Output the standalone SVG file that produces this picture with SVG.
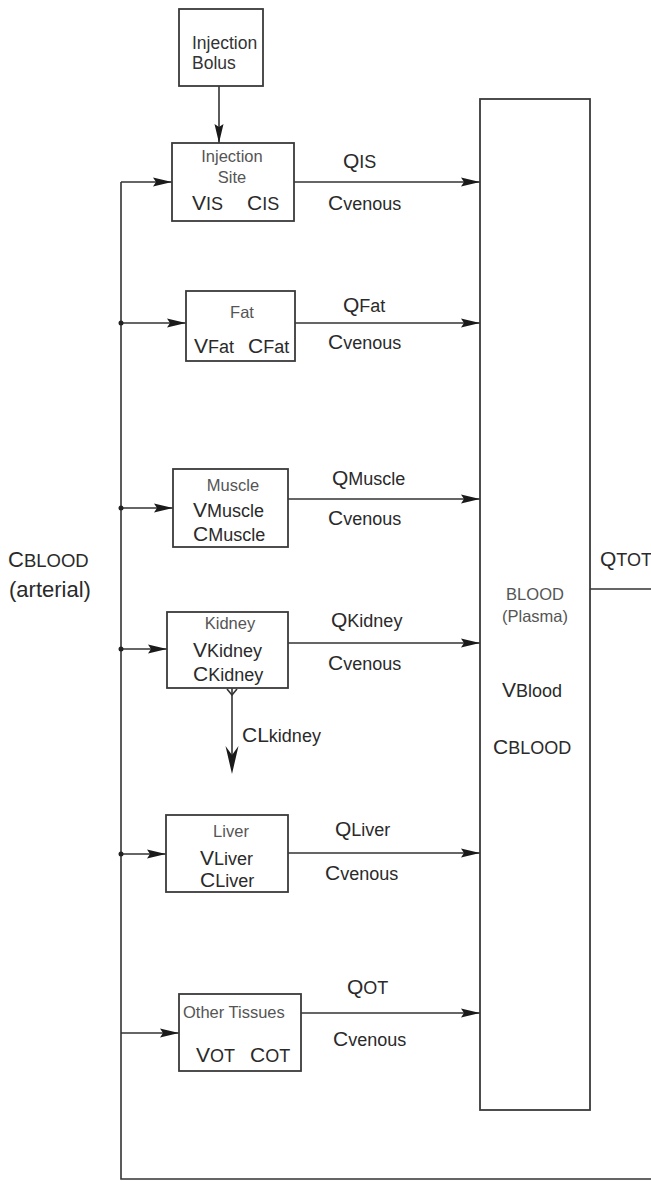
<svg xmlns="http://www.w3.org/2000/svg" width="651" height="1181" viewBox="0 0 651 1181">
<style>
.box{fill:#fff;stroke:#3a3a3a;stroke-width:1.8}
.ln{fill:none;stroke:#333;stroke-width:1.6}
.dot{fill:#222}
text{font-family:"Liberation Sans",Arial,sans-serif;fill:#2a2a2a}
.lbl{font-size:16.5px;fill:#555}
.b{font-size:21px}
.s{font-size:18px}
.big{font-size:22px}
.bs{font-size:18.5px}
</style>
<defs>
<marker id="ah" markerUnits="userSpaceOnUse" markerWidth="19" markerHeight="10" refX="19" refY="5" orient="auto">
<path d="M0,0.5 L19,5 L0,9.5 L3,5 Z" fill="#1a1a1a"/>
</marker>
</defs>
<rect width="651" height="1181" fill="#fff"/>
<g id="connectors">
<path class="ln" d="M219,86 V143" marker-end="url(#ah)"/>
<path class="ln" d="M121,182 V1179 H651"/>
<path class="ln" d="M590,589 H651"/>
<path class="ln" d="M121,182 H172" marker-end="url(#ah)"/>
<path class="ln" d="M294,182 H480" marker-end="url(#ah)"/>
<path class="ln" d="M121,323 H186" marker-end="url(#ah)"/>
<path class="ln" d="M295,323 H480" marker-end="url(#ah)"/>
<path class="ln" d="M121,508 H173" marker-end="url(#ah)"/>
<path class="ln" d="M288,499 H480" marker-end="url(#ah)"/>
<path class="ln" d="M121,649 H167" marker-end="url(#ah)"/>
<path class="ln" d="M288,643 H480" marker-end="url(#ah)"/>
<path class="ln" d="M121,854 H166" marker-end="url(#ah)"/>
<path class="ln" d="M288,853 H480" marker-end="url(#ah)"/>
<path class="ln" d="M121,1033 H179" marker-end="url(#ah)"/>
<path class="ln" d="M301,1013 H480" marker-end="url(#ah)"/>
<path class="ln" d="M232,688 V770"/>
<path class="ln" d="M227,689 L232,695 L237,689"/>
<path d="M232,774 L225.5,746 L232,755 L238.5,746 Z" fill="#1a1a1a"/>
<circle class="dot" cx="121" cy="323" r="2.5"/>
<circle class="dot" cx="121" cy="508" r="2.5"/>
<circle class="dot" cx="121" cy="649" r="2.5"/>
<circle class="dot" cx="121" cy="854" r="2.5"/>
<text x="343" y="168"><tspan class="b">Q</tspan><tspan class="s">IS</tspan></text>
<text x="328" y="210"><tspan class="b">C</tspan><tspan class="s">venous</tspan></text>
<text x="343" y="312"><tspan class="b">Q</tspan><tspan class="s">Fat</tspan></text>
<text x="328" y="349"><tspan class="b">C</tspan><tspan class="s">venous</tspan></text>
<text x="332" y="485"><tspan class="b">Q</tspan><tspan class="s">Muscle</tspan></text>
<text x="328" y="525"><tspan class="b">C</tspan><tspan class="s">venous</tspan></text>
<text x="331" y="627"><tspan class="b">Q</tspan><tspan class="s">Kidney</tspan></text>
<text x="328" y="670"><tspan class="b">C</tspan><tspan class="s">venous</tspan></text>
<text x="242" y="742"><tspan class="b">CL</tspan><tspan class="s">kidney</tspan></text>
<text x="335" y="836"><tspan class="b">Q</tspan><tspan class="s">Liver</tspan></text>
<text x="325" y="880"><tspan class="b">C</tspan><tspan class="s">venous</tspan></text>
<text x="347" y="994"><tspan class="b">Q</tspan><tspan class="s">OT</tspan></text>
<text x="333" y="1046"><tspan class="b">C</tspan><tspan class="s">venous</tspan></text>
<text x="600" y="566"><tspan class="b">Q</tspan><tspan class="s">TOT</tspan></text>
<text x="8" y="567"><tspan class="big">C</tspan><tspan class="bs">BLOOD</tspan></text>
<text x="9" y="597" font-size="22">(arterial)</text>
</g>
<g id="bolus">
<rect class="box" x="179" y="9" width="84" height="77"/>
<text class="lbl" x="192" y="49" style="font-size:17.5px;fill:#333">Injection</text>
<text class="lbl" x="192" y="69" style="font-size:17.5px;fill:#333">Bolus</text>
</g>
<g id="injection-site">
<rect class="box" x="172" y="143" width="122" height="78"/>
<text class="lbl" x="232" y="162" text-anchor="middle">Injection</text>
<text class="lbl" x="232" y="183" text-anchor="middle">Site</text>
<text x="192" y="210"><tspan class="b">V</tspan><tspan class="s">IS</tspan></text>
<text x="247" y="210"><tspan class="b">C</tspan><tspan class="s">IS</tspan></text>
</g>
<g id="fat">
<rect class="box" x="186" y="291" width="109" height="70"/>
<text class="lbl" x="242" y="318" text-anchor="middle">Fat</text>
<text x="194" y="353"><tspan class="b">V</tspan><tspan class="s">Fat</tspan></text>
<text x="248" y="353"><tspan class="b">C</tspan><tspan class="s">Fat</tspan></text>
</g>
<g id="muscle">
<rect class="box" x="173" y="469" width="115" height="78"/>
<text class="lbl" x="233" y="491" text-anchor="middle">Muscle</text>
<text x="193" y="517"><tspan class="b">V</tspan><tspan class="s">Muscle</tspan></text>
<text x="193" y="541"><tspan class="b">C</tspan><tspan class="s">Muscle</tspan></text>
</g>
<g id="kidney">
<rect class="box" x="167" y="612" width="121" height="76"/>
<text class="lbl" x="230" y="629" text-anchor="middle">Kidney</text>
<text x="193" y="657"><tspan class="b">V</tspan><tspan class="s">Kidney</tspan></text>
<text x="193" y="681"><tspan class="b">C</tspan><tspan class="s">Kidney</tspan></text>
</g>
<g id="liver">
<rect class="box" x="166" y="815" width="122" height="77"/>
<text class="lbl" x="231" y="837" text-anchor="middle">Liver</text>
<text x="200" y="865"><tspan class="b">V</tspan><tspan class="s">Liver</tspan></text>
<text x="200" y="887"><tspan class="b">C</tspan><tspan class="s">Liver</tspan></text>
</g>
<g id="other-tissues">
<rect class="box" x="179" y="994" width="122" height="77"/>
<text class="lbl" x="183" y="1018">Other Tissues</text>
<text x="196" y="1062"><tspan class="b">V</tspan><tspan class="s">OT</tspan></text>
<text x="250" y="1062"><tspan class="b">C</tspan><tspan class="s">OT</tspan></text>
</g>
<g id="blood">
<rect class="box" x="480" y="99" width="110" height="1011"/>
<text class="lbl" x="535" y="600" text-anchor="middle">BLOOD</text>
<text class="lbl" x="535" y="622" text-anchor="middle">(Plasma)</text>
<text x="502" y="697"><tspan class="b">V</tspan><tspan class="s">Blood</tspan></text>
<text x="493" y="754"><tspan class="b">C</tspan><tspan class="s">BLOOD</tspan></text>
</g>
</svg>
